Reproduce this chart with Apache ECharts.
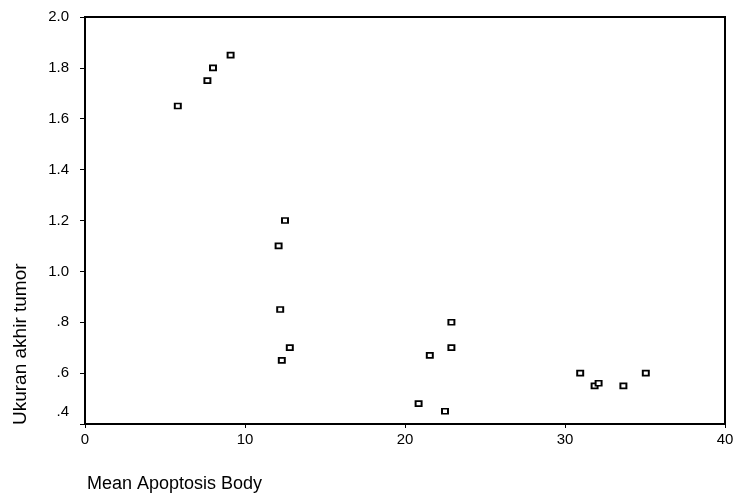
<!DOCTYPE html>
<html>
<head>
<meta charset="utf-8">
<script src="https://cdn.jsdelivr.net/npm/echarts@6/dist/echarts.min.js"></script>
<style>
  html, body { margin: 0; padding: 0; background: #fff; }
  #main { width: 733px; height: 497px; }
</style>
</head>
<body>
<div id="main"></div>
<script>
// data
var apoptosis = [5.8, 7.65, 8.0, 9.1, 12.5, 12.1, 12.2, 12.8, 12.3, 22.9, 22.9, 21.55, 20.85, 22.5, 30.95, 31.85, 32.1, 33.65, 35.05];
var tumorSize = [1.65, 1.75, 1.80, 1.85, 1.20, 1.10, 0.85, 0.70, 0.65, 0.80, 0.70, 0.67, 0.48, 0.45, 0.60, 0.55, 0.56, 0.55, 0.60];
var xTitle = 'Mean Apoptosis Body';
var yTitle = 'Ukuran akhir tumor';

var points = [];
for (var i = 0; i < apoptosis.length; i++) {
  points.push([apoptosis[i], tumorSize[i]]);
}

var chart = echarts.init(document.getElementById('main'));
var font = 'Liberation Sans, Arial, sans-serif';

var option = {
  animation: false,
  grid: {
    left: 85, right: 8, top: 17, bottom: 73,
    outerBoundsMode: 'none',
    show: true, borderColor: '#000', borderWidth: 2
  },
  xAxis: {
    type: 'value',
    min: 0, max: 40, interval: 10,
    axisLine: { lineStyle: { color: '#000', width: 2 } },
    axisTick: { length: 4, lineStyle: { color: '#000', width: 1 } },
    axisLabel: { color: '#000', fontFamily: font, fontSize: 15, margin: 8 },
    splitLine: { show: false }
  },
  yAxis: {
    type: 'value',
    min: 0.4, max: 2.0, interval: 0.2,
    axisLine: { show: true, lineStyle: { color: '#000', width: 2 } },
    axisTick: { show: true, length: 5, lineStyle: { color: '#000', width: 1 } },
    axisLabel: {
      color: '#000', fontFamily: font, fontSize: 15, margin: 16,
      formatter: function (v) {
        var s = v.toFixed(1);
        if (s.charAt(0) === '0') s = s.substring(1);
        if (Math.abs(v - 0.4) < 1e-6) return '{low|' + s + '}';
        return s;
      },
      rich: { low: { fontFamily: font, fontSize: 15, color: '#000', padding: [0, 0, 24, 0] } }
    },
    splitLine: { show: false }
  },
  graphic: [
    {
      type: 'text', left: 87, top: 475,
      style: { text: xTitle, fill: '#000', font: '18px ' + font }
    },
    {
      type: 'text', x: 21, y: 425, rotation: Math.PI / 2,
      style: { text: yTitle, fill: '#000', font: '19px ' + font, textAlign: 'left', textVerticalAlign: 'middle' }
    }
  ],
  series: [{
    type: 'scatter',
    data: points,
    symbol: 'rect',
    symbolSize: [6, 5],
    itemStyle: { color: '#fff', borderColor: '#000', borderWidth: 1.8, opacity: 1 }
  }]
};

chart.setOption(option);
</script>
</body>
</html>
